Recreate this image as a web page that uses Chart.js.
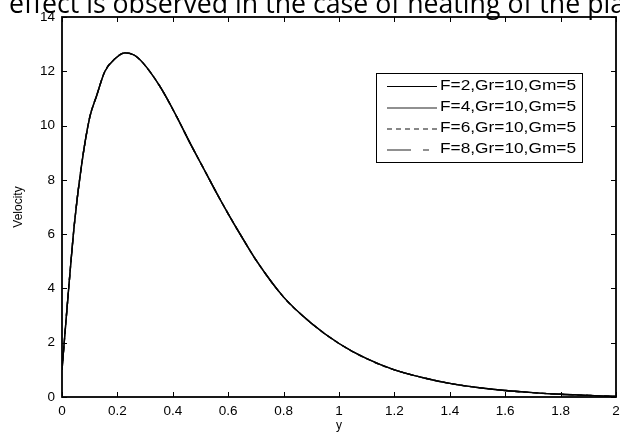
<!DOCTYPE html>
<html>
<head>
<meta charset="utf-8">
<script src="https://cdn.jsdelivr.net/npm/chart.js@4/dist/chart.umd.min.js"></script>
<style>
html,body{margin:0;padding:0;background:#fff;}
#wrap{width:620px;height:434px;position:relative;}
</style>
</head>
<body>
<div id="wrap"><canvas id="c" width="620" height="434"></canvas></div>
<script>
// ---- data ----
const headingText = 'effect is observed in the case of heating of the pla';
const seriesLabels = ['F=2,Gr=10,Gm=5', 'F=4,Gr=10,Gm=5', 'F=6,Gr=10,Gm=5', 'F=8,Gr=10,Gm=5'];
const yPos = [0, 0.02, 0.045, 0.07, 0.1, 0.125, 0.155, 0.19, 0.227, 0.26, 0.293, 0.353, 0.413, 0.46, 0.52, 0.56, 0.6, 0.65, 0.7, 0.8, 0.9, 1.0, 1.1, 1.2, 1.3, 1.4, 1.5, 1.6, 1.7, 1.8, 1.9, 2.0];
const velF2 = [1.0, 3.5, 6.4, 8.5, 10.3, 11.1, 12.0, 12.45, 12.68, 12.6, 12.3, 11.45, 10.35, 9.4, 8.25, 7.48, 6.75, 5.88, 5.05, 3.68, 2.72, 1.97, 1.41, 1.0, 0.72, 0.5, 0.35, 0.24, 0.16, 0.1, 0.06, 0.02];
const velF4 = [1.0, 3.5, 6.4, 8.5, 10.3, 11.1, 12.0, 12.45, 12.68, 12.6, 12.3, 11.45, 10.35, 9.4, 8.25, 7.48, 6.75, 5.88, 5.05, 3.68, 2.72, 1.97, 1.41, 1.0, 0.72, 0.5, 0.35, 0.24, 0.16, 0.1, 0.06, 0.02];
const velF6 = [1.0, 3.5, 6.4, 8.5, 10.3, 11.1, 12.0, 12.45, 12.68, 12.6, 12.3, 11.45, 10.35, 9.4, 8.25, 7.48, 6.75, 5.88, 5.05, 3.68, 2.72, 1.97, 1.41, 1.0, 0.72, 0.5, 0.35, 0.24, 0.16, 0.1, 0.06, 0.02];
const velF8 = [1.0, 3.5, 6.4, 8.5, 10.3, 11.1, 12.0, 12.45, 12.68, 12.6, 12.3, 11.45, 10.35, 9.4, 8.25, 7.48, 6.75, 5.88, 5.05, 3.68, 2.72, 1.97, 1.41, 1.0, 0.72, 0.5, 0.35, 0.24, 0.16, 0.1, 0.06, 0.02];
const xTickLabels = ['0', '0.2', '0.4', '0.6', '0.8', '1', '1.2', '1.4', '1.6', '1.8', '2'];
const yTickLabels = ['0', '2', '4', '6', '8', '10', '12', '14'];
const xTitle = 'y';
const yTitle = 'Velocity';

// ---- styles ----
const dashes = [[], [], [5, 4], [24, 12, 6, 12]];
const colors = ['#000', '#222', '#111', '#222'];

function pts(v) { return yPos.map((x, i) => ({x: x, y: v[i]})); }
const allVel = [velF2, velF4, velF6, velF8];

const datasets = allVel.map((v, i) => ({
  label: seriesLabels[i],
  data: pts(v),
  borderColor: colors[i],
  borderWidth: 1.4,
  borderDash: dashes[i],
  pointRadius: 0,
  fill: false,
  cubicInterpolationMode: 'monotone'
}));

const FONT = "'Liberation Sans', Arial, Helvetica, sans-serif";

const framePlugin = {
  id: 'frame',
  beforeDraw(chart) {
    const ctx = chart.ctx;
    ctx.save();
    ctx.fillStyle = '#fff';
    ctx.fillRect(0, 0, chart.width, chart.height);
    // heading line of the page (partially cut at top)
    ctx.fillStyle = '#000';
    let fs = 24;
    const fam = "'Open Sans', 'Noto Sans', sans-serif";
    ctx.font = fs + "px " + fam;
    const w = ctx.measureText(headingText).width;
    fs = fs * 616 / w;
    ctx.font = fs.toFixed(2) + "px " + fam;
    ctx.textBaseline = 'alphabetic';
    ctx.textAlign = 'left';
    ctx.fillText(headingText, 9, 13);
    ctx.restore();
  },
  afterDraw(chart) {
    const ctx = chart.ctx;
    const a = chart.chartArea;
    const xs = chart.scales.x, ys = chart.scales.y;
    ctx.save();
    ctx.strokeStyle = '#000';
    ctx.lineWidth = 1.8;
    ctx.strokeRect(a.left, a.top, a.right - a.left, a.bottom - a.top);
    ctx.lineWidth = 1;
    const tl = 5;
    ctx.beginPath();
    xs.ticks.forEach(t => {
      const px = Math.round(xs.getPixelForValue(t.value)) + 0.5;
      ctx.moveTo(px, a.bottom); ctx.lineTo(px, a.bottom - tl);
      ctx.moveTo(px, a.top); ctx.lineTo(px, a.top + tl);
    });
    ys.ticks.forEach(t => {
      const py = Math.round(ys.getPixelForValue(t.value)) + 0.5;
      ctx.moveTo(a.left, py); ctx.lineTo(a.left + tl, py);
      ctx.moveTo(a.right, py); ctx.lineTo(a.right - tl, py);
    });
    ctx.stroke();

    // legend box inside the axes
    const L = {left: 376, top: 73, right: 582, bottom: 162};
    ctx.fillStyle = '#fff';
    ctx.fillRect(L.left, L.top, L.right - L.left, L.bottom - L.top);
    ctx.lineWidth = 1;
    ctx.strokeStyle = '#000';
    ctx.strokeRect(L.left + 0.5, L.top + 0.5, L.right - L.left, L.bottom - L.top);
    const rowY = [86, 107.5, 128.5, 149.5];
    chart.data.datasets.forEach((ds, i) => {
      const y = rowY[i];
      ctx.save();
      ctx.strokeStyle = ds.borderColor;
      ctx.lineWidth = 1.2;
      ctx.setLineDash(ds.borderDash || []);
      ctx.beginPath();
      ctx.moveTo(387, y + 0.5); ctx.lineTo(437, y + 0.5);
      ctx.stroke();
      ctx.restore();
      ctx.save();
      ctx.fillStyle = '#000';
      ctx.font = '14px ' + FONT;
      ctx.textBaseline = 'middle';
      ctx.textAlign = 'left';
      const tw = ctx.measureText(ds.label).width;
      ctx.translate(440, y);
      ctx.scale(136 / tw, 1);
      ctx.fillText(ds.label, 0, 0);
      ctx.restore();
    });
    ctx.restore();
  }
};

new Chart(document.getElementById('c'), {
  type: 'line',
  data: { datasets: datasets },
  plugins: [framePlugin],
  options: {
    responsive: false,
    animation: false,
    devicePixelRatio: 1,
    layout: { padding: { left: 0, right: 4, top: 17, bottom: 0 } },
    plugins: { legend: { display: false }, tooltip: { enabled: false } },
    scales: {
      x: {
        type: 'linear', min: 0, max: 2,
        grid: { display: false, drawTicks: false },
        border: { display: false },
        ticks: {
          stepSize: 0.2, color: '#000', padding: 6, maxRotation: 0, autoSkip: false,
          font: { family: FONT, size: 13.5 },
          callback: (v, i) => xTickLabels[i]
        },
        title: { display: true, text: xTitle, color: '#000', font: { family: FONT, size: 12 }, padding: { top: 0, bottom: 1 } },
        afterFit(s) { s.height = 37; s.paddingLeft = 0; s.paddingRight = 0; }
      },
      y: {
        type: 'linear', min: 0, max: 14,
        grid: { display: false, drawTicks: false },
        border: { display: false },
        ticks: {
          stepSize: 2, color: '#000', padding: 7,
          font: { family: FONT, size: 13.5 },
          callback: (v, i) => yTickLabels[i]
        },
        title: { display: true, text: yTitle, color: '#000', font: { family: FONT, size: 12 }, padding: { top: 11, bottom: 0 } },
        afterFit(s) { s.width = 62; s.paddingTop = 0; s.paddingBottom = 0; }
      }
    }
  }
});
</script>
</body>
</html>
